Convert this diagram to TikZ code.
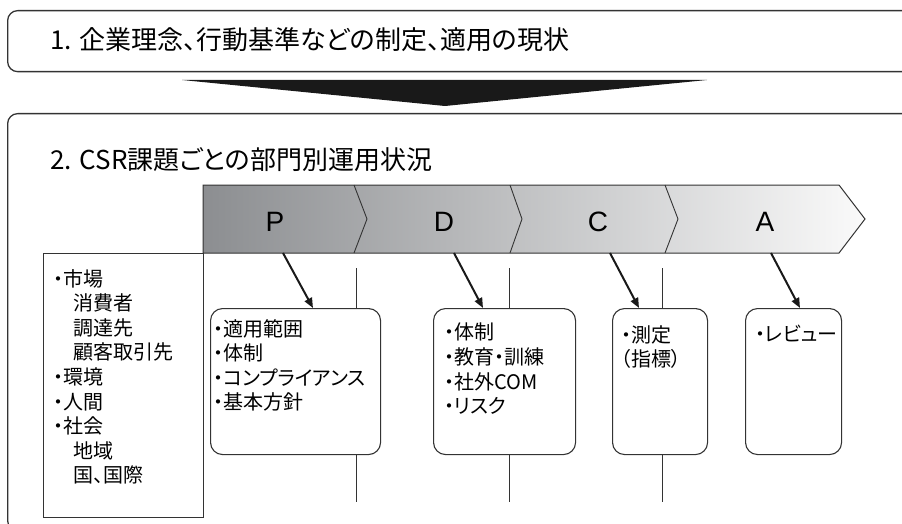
\documentclass[tikz,border=0pt]{standalone}
\usepackage{fontspec}
\setmainfont{Noto Sans CJK JP}[RawFeature={+palt}]
\newfontfamily\latinfont{Liberation Sans}
\usetikzlibrary{arrows.meta}
\definecolor{bandL}{HTML}{8C8E91}
\definecolor{bandR}{HTML}{FAFAFA}
\definecolor{edge}{HTML}{333333}
\begin{document}
\begin{tikzpicture}[x=1pt,y=-1pt,
  panel/.style={draw=edge, line width=1.3pt, rounded corners=10pt, rectangle, inner sep=0pt},
  itembox/.style={draw=edge, line width=1.1pt, rounded corners=12pt, rectangle, inner sep=0pt},
  plainbox/.style={draw=edge, line width=1.1pt, rectangle, inner sep=0pt},
  txt/.style={anchor=north west, align=left, inner sep=0pt, font=\fontsize{20}{24.6}\selectfont},
  head/.style={anchor=west, inner sep=0pt, font=\fontsize{26}{30}\selectfont},
  phase/.style={inner sep=0pt, font=\latinfont\fontsize{28}{30}\selectfont},
  pointer/.style={-{Triangle[length=10pt,width=8pt]}, line width=2pt, draw=black!90},
  tickline/.style={draw=edge, line width=1pt},
  divider/.style={draw=edge, line width=0.9pt}]
\useasboundingbox (0,0) rectangle (902,524);

% panel 1
\node[panel, anchor=north west, minimum width=905pt, minimum height=61pt] (top) at (7,10) {};
\node[head] (t1) at (50,40) {1. 企業理念、行動基準などの制定、適用の現状};

% big arrow
\fill[black!90] (182,80) -- (707,80) -- (445,106) -- cycle;

% panel 2
\node[panel, anchor=north west, minimum width=905pt, minimum height=417pt] (main) at (7,113) {};
\node[head] (t2) at (50,160) {2. CSR課題ごとの部門別運用状況};

% PDCA band
\shade[left color=bandL, right color=bandR] (203,185) -- (839,185) -- (865,219) -- (839,253) -- (203,253) -- cycle;
\draw[edge, line width=1pt] (203,185) -- (839,185) -- (865,219) -- (839,253) -- (203,253) -- cycle;
\draw[divider] (354,185) -- (367,219) -- (354,253);
\draw[divider] (510,185) -- (522,219) -- (510,253);
\draw[divider] (665,185) -- (678,219) -- (665,253);
\node[phase] (P) at (275,222) {P};
\node[phase] (D) at (444,222) {D};
\node[phase] (C) at (598,222) {C};
\node[phase] (A) at (765,222) {A};

% left box
\node[plainbox, anchor=north west, minimum width=160.5pt, minimum height=264pt] (left) at (42.5,253) {};
\node[txt] (ltxt) at (53,269) {・市場\\\hspace{1em}消費者\\\hspace{1em}調達先\\\hspace{1em}顧客取引先\\・環境\\・人間\\・社会\\\hspace{1em}地域\\\hspace{1em}国、国際};

% item boxes
\node[itembox, anchor=north west, minimum width=170pt, minimum height=146pt] (Pbox) at (210,308) {};
\node[itembox, anchor=north west, minimum width=142pt, minimum height=146pt] (Dbox) at (433,308) {};
\node[itembox, anchor=north west, minimum width=95pt, minimum height=146pt] (Cbox) at (612,308) {};
\node[itembox, anchor=north west, minimum width=96pt, minimum height=146pt] (Abox) at (745,308) {};

\node[txt] (ptxt) at (213,319) {・適用範囲\\・体制\\・コンプライアンス\\・基本方針};
\node[txt] (dtxt) at (444,323) {・体制\\・教育・訓練\\・社外COM\\・リスク};
\node[txt] (ctxt) at (621,325) {・測定\\（指標）};
\node[txt] (atxt) at (755,325) {・レビュー};

% arrows from phases to boxes
\coordinate (aPs) at (283,253);
\coordinate (aPe) at (313,308);
\coordinate (aDs) at (454,253);
\coordinate (aDe) at (483,308);
\coordinate (aCs) at (610,253);
\coordinate (aCe) at (639,308);
\coordinate (aAs) at (771,253);
\coordinate (aAe) at (800,308);
\draw[pointer] (aPs) -- (aPe);
\draw[pointer] (aDs) -- (aDe);
\draw[pointer] (aCs) -- (aCe);
\draw[pointer] (aAs) -- (aAe);

% tick lines
\coordinate (k1a) at (356,268); \coordinate (k1b) at (356,502);
\coordinate (k2a) at (509,268); \coordinate (k2b) at (509,502);
\coordinate (k3a) at (662,268); \coordinate (k3b) at (662,502);
\draw[tickline] (k1a) -- (k1a |- Pbox.north);
\draw[tickline] (k1a |- Pbox.south) -- (k1b);
\draw[tickline] (k2a) -- (k2a |- Dbox.north);
\draw[tickline] (k2a |- Dbox.south) -- (k2b);
\draw[tickline] (k3a) -- (k3a |- Cbox.north);
\draw[tickline] (k3a |- Cbox.south) -- (k3b);
\end{tikzpicture}
\end{document}
